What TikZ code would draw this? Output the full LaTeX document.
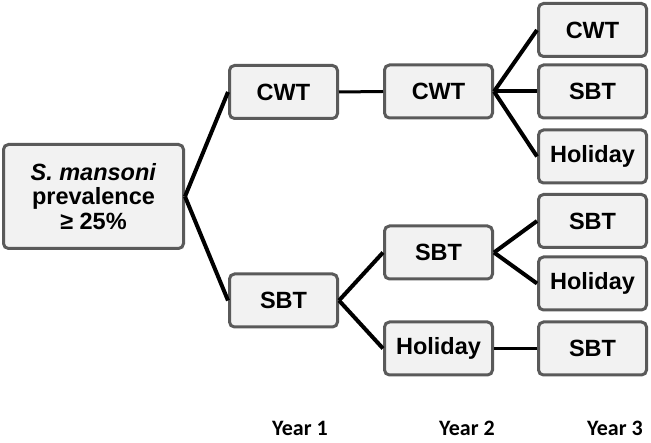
\documentclass[tikz,border=0pt]{standalone}
\usepackage{fontspec}
\setmainfont{Liberation Sans}
\newfontfamily\yearfont{Carlito}
\usetikzlibrary{positioning}
\definecolor{box}{HTML}{F2F2F2}
\definecolor{edge}{HTML}{5A5A5A}
\tikzset{
  n/.style={draw=edge, line width=3pt, rounded corners=5pt, fill=box, align=center,
    font=\fontsize{23.5}{24.5}\selectfont\bfseries, inner sep=0pt,
    minimum width=108pt, minimum height=53pt},
  nr/.style={n, minimum width=180pt, minimum height=104pt},
  a/.style={draw=black, line width=4pt},
  as/.style={draw=black, line width=3pt},
  yr/.style={font=\fontsize{22}{24}\selectfont\yearfont\bfseries, inner sep=0pt, anchor=base},
}
\begin{document}
\begin{tikzpicture}[x=1pt, y=-1pt]
\useasboundingbox (0,0) rectangle (651,443);

% ---- start ----
\node[nr] (root) at (93.5, 196.5) {\textit{S. mansoni}\\prevalence\\≥ 25\%};

% ---- year 1 (x = 283.5) ----
\node[n] (cwta) at (283.5,  92.0) {CWT};
\node[n] (sbta) at (283.5, 300.5) {SBT};

% ---- year 2 (x = 438.5) ----
\node[n] (cwtb) at (438.5,  91.5) {CWT};
\node[n] (sbtb) at (438.5, 252.5) {SBT};
\node[n] (holb) at (438.5, 348.5) {Holiday};

% ---- year 3 (x = 592.5) ----
\node[n] (cwtc)  at (592.5,  30.0) {CWT};
\node[n] (sbtc)  at (592.5,  91.5) {SBT};
\node[n] (holc)  at (592.5, 156.5) {Holiday};
\node[n] (sbtd)  at (592.5, 221.0) {SBT};
\node[n] (hold)  at (592.5, 283.5) {Holiday};
\node[n] (sbte)  at (592.5, 348.5) {SBT};

% ---- edges ----
\draw[a] (root.east) -- (cwta.west);
\draw[a] (root.east) -- (sbta.west);

\draw[as] (cwta.east) -- (cwtb.west);
\draw[a] (sbta.east) -- (sbtb.west);
\draw[a] (sbta.east) -- (holb.west);

\draw[a] (cwtb.east) -- (cwtc.west);
\draw[a] (cwtb.east) -- (sbtc.west);
\draw[a] (cwtb.east) -- (holc.west);
\draw[a] (sbtb.east) -- (sbtd.west);
\draw[a] (sbtb.east) -- (hold.west);
\draw[as] (holb.east) -- (sbte.west);

% ---- years ----
\node[yr] (yra) at (300, 436) {Year 1};
\node[yr] (yrb) at (467, 436) {Year 2};
\node[yr] (yrc) at (615, 436) {Year 3};
\end{tikzpicture}
\end{document}
